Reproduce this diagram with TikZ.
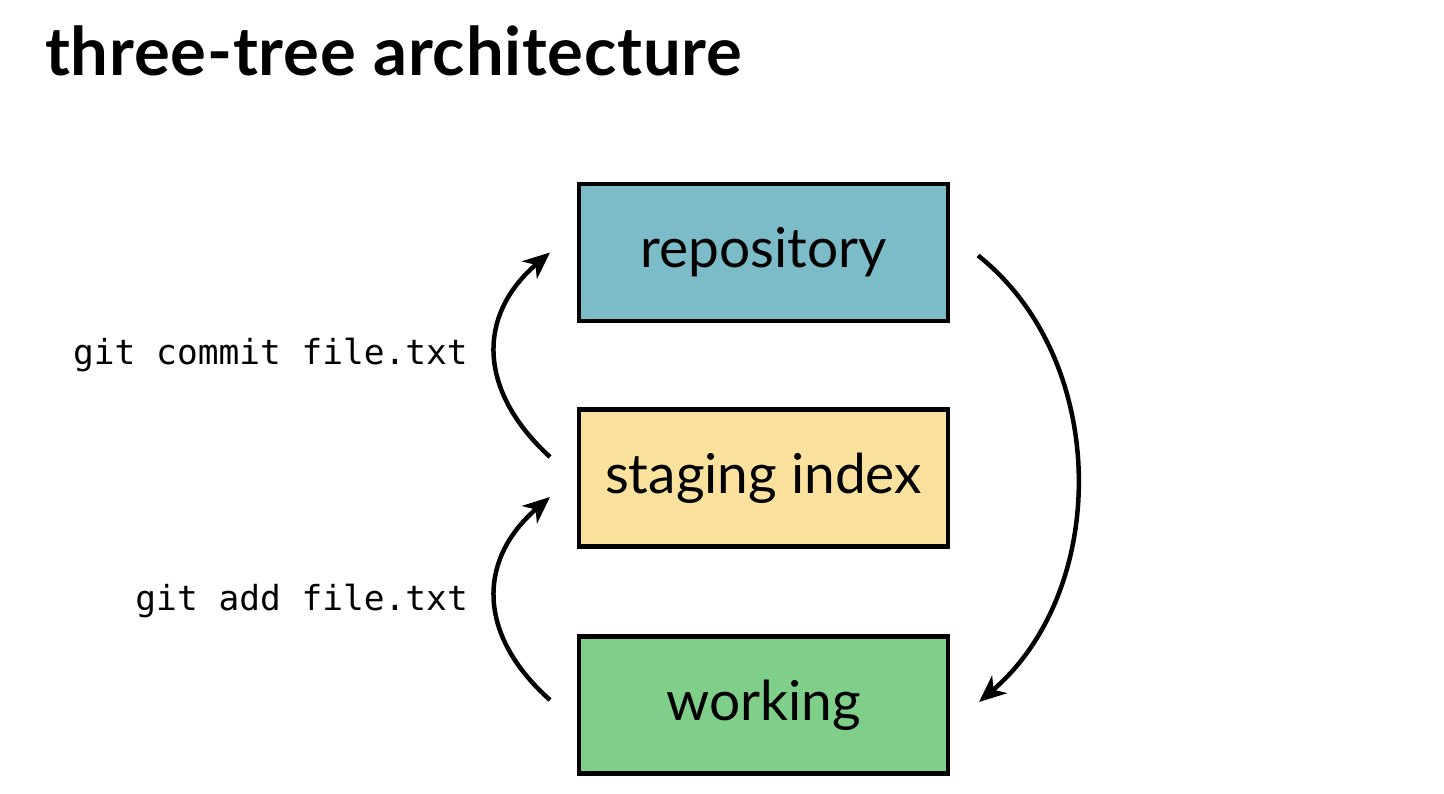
\documentclass[tikz,border=0pt]{standalone}
\usepackage{fontspec}
\setmainfont{Lato}
\setmonofont{DejaVu Sans Mono}
\usetikzlibrary{arrows.meta}
\definecolor{repoblue}{HTML}{7BBCC8}
\definecolor{stageyellow}{HTML}{FAE29E}
\definecolor{workgreen}{HTML}{7FCF8B}
\tikzset{
  treebox/.style={draw=black, line width=4.5pt, outer sep=0pt,
    minimum width=369pt, minimum height=137pt, inner sep=0pt,
    font=\fontsize{55}{62}\selectfont, text=black},
  cmdlabel/.style={anchor=base east, inner sep=0pt,
    font=\ttfamily\fontsize{34.5}{40}\selectfont},
  flow/.style={line width=4.5pt,
    -{Stealth[length=27pt, width=23pt, inset=8pt]}}
}
\begin{document}
\begin{tikzpicture}[x=1pt, y=-1pt]
  \useasboundingbox (0,0) rectangle (1444,794);
  \fill[white] (0,0) rectangle (1444,794);

  % heading
  \node[anchor=base west, inner sep=0pt,
        font=\bfseries\fontsize{67}{76}\selectfont\addfontfeature{LetterSpace=1.2}] (title)
        at (45,76) {three-tree architecture};

  % the three trees
  \node[treebox, fill=repoblue]    (repo)  at (763.5,252.5) {repository};
  \node[treebox, fill=stageyellow] (stage) at (763.5,478)   {staging index};
  \node[treebox, fill=workgreen]   (work)  at (763.5,705)   {working};

  % commands
  \node[cmdlabel] (commit) at (468,365) {git commit file.txt};
  \node[cmdlabel] (add)    at (468,610) {git add file.txt};

  % working -> staging
  \draw[flow] ([shift={(-29,-5)}]work.west)
    .. controls (477,635) and (477,560) .. ([shift={(-29,19)}]stage.west);
  % staging -> repository
  \draw[flow] ([shift={(-29,-21)}]stage.west)
    .. controls (477,390) and (477,315) .. ([shift={(-29,0)}]repo.west);
  % repository -> working
  \draw[flow] ([shift={(30,3)}]repo.east)
    .. controls (1110,360) and (1110,590) .. ([shift={(31,-3)}]work.east);
\end{tikzpicture}
\end{document}
